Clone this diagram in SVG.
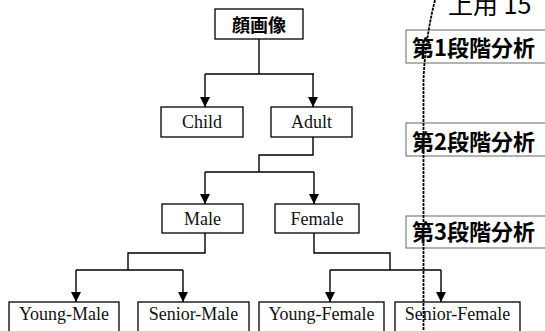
<svg xmlns="http://www.w3.org/2000/svg" width="545" height="331" viewBox="0 0 545 331">
<style>
.box{fill:#fff;stroke:#000;stroke-width:1.3}
.lbl{font-family:"Liberation Serif","Times New Roman",serif;font-size:18px;fill:#111;text-anchor:middle}
.jp{font-family:"Noto Sans CJK JP","Noto Sans",sans-serif;font-weight:bold;fill:#000}
.stage{fill:#fff;stroke:#666;stroke-width:1}
.ln{fill:none;stroke:#000;stroke-width:1.4}
</style>
<defs>
<marker id="ah" markerUnits="userSpaceOnUse" markerWidth="10" markerHeight="10" refX="10" refY="5" orient="auto" viewBox="0 0 10 10">
<path d="M0,0 L10,5 L0,10 z" fill="#000"/>
</marker>
</defs>
<rect width="545" height="331" fill="#fff"/>
<text x="448" y="14" font-family="'Noto Sans CJK JP','Noto Sans',sans-serif" font-size="25" fill="#000">上用 15</text>
<g id="stage1"><rect class="stage" x="406" y="30" width="150" height="33"/><text class="jp" x="412" y="56" font-size="22">第1段階分析</text></g>
<g id="stage2"><rect class="stage" x="406" y="123" width="150" height="33"/><text class="jp" x="412" y="150" font-size="22">第2段階分析</text></g>
<g id="stage3"><rect class="stage" x="406" y="216" width="150" height="32"/><text class="jp" x="412" y="240" font-size="22">第3段階分析</text></g>
<g id="connectors">
<path class="ln" d="M259,39 V74 M205,74 H314"/>
<path class="ln" d="M205,74 V107" marker-end="url(#ah)"/>
<path class="ln" d="M313,74 V107" marker-end="url(#ah)"/>
<path class="ln" d="M313,137 V155 H259 V172 M205,172 H314"/>
<path class="ln" d="M205,172 V204" marker-end="url(#ah)"/>
<path class="ln" d="M314,172 V204" marker-end="url(#ah)"/>
<path class="ln" d="M205,233 V253 H128 V270 M76,270 H183"/>
<path class="ln" d="M76,270 V302" marker-end="url(#ah)"/>
<path class="ln" d="M183,270 V302" marker-end="url(#ah)"/>
<path class="ln" d="M314,233 V253 H390 V270 M330,270 H441"/>
<path class="ln" d="M330,270 V302" marker-end="url(#ah)"/>
<path class="ln" d="M441,270 V302" marker-end="url(#ah)"/>
</g>
<g id="face"><rect class="box" x="215" y="9" width="88" height="30"/><text class="jp" x="259" y="32" font-size="18" text-anchor="middle">顔画像</text></g>
<g id="child"><rect class="box" x="161" y="107" width="82" height="30"/><text class="lbl" x="202" y="128">Child</text></g>
<g id="adult"><rect class="box" x="271" y="107" width="81" height="30"/><text class="lbl" x="311.5" y="128">Adult</text></g>
<g id="male"><rect class="box" x="162" y="204" width="81" height="29"/><text class="lbl" x="202.5" y="225">Male</text></g>
<g id="female"><rect class="box" x="275" y="204" width="84" height="29"/><text class="lbl" x="317" y="225">Female</text></g>
<g id="young-male"><rect class="box" x="9" y="302" width="110" height="32"/><text class="lbl" x="64" y="320">Young-Male</text></g>
<g id="senior-male"><rect class="box" x="138" y="302" width="111" height="32"/><text class="lbl" x="193.5" y="320">Senior-Male</text></g>
<g id="young-female"><rect class="box" x="259" y="302" width="125" height="32"/><text class="lbl" x="321.5" y="320">Young-Female</text></g>
<g id="senior-female"><rect class="box" x="395" y="302" width="125" height="32"/><text class="lbl" x="457.5" y="320">Senior-Female</text></g>
<path d="M435,0 Q425,40 423.5,80 L423.5,331" fill="none" stroke="#000" stroke-width="1.8" stroke-dasharray="3,1"/>
</svg>
